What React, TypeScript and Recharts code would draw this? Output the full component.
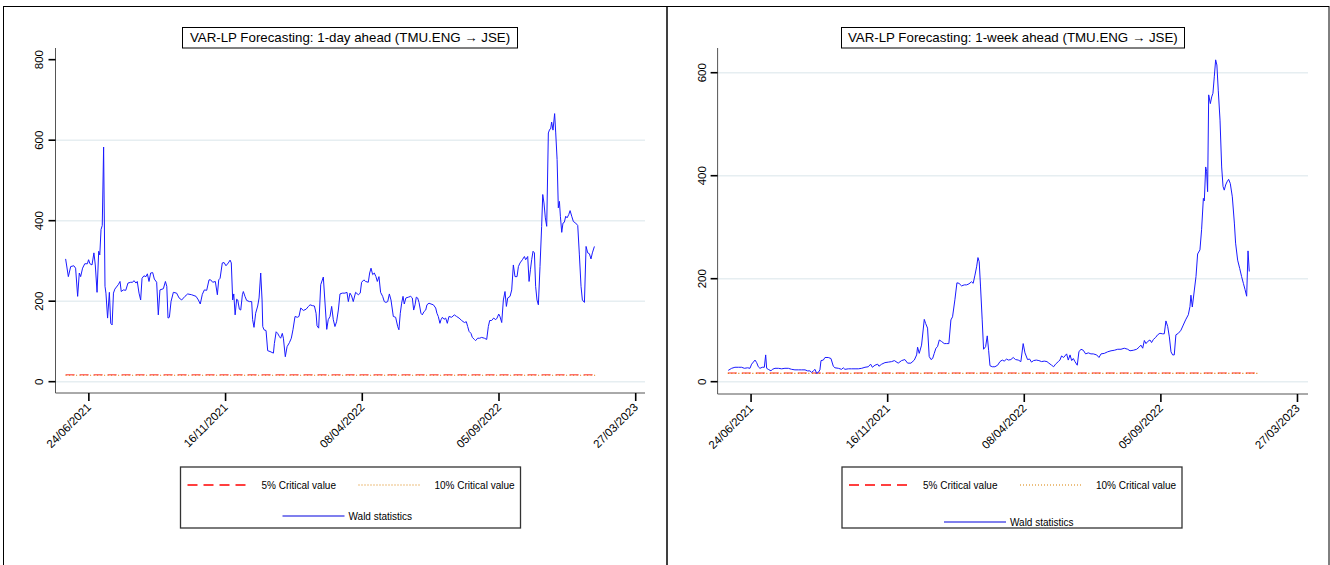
import { CartesianGrid, Line, LineChart, XAxis, YAxis } from 'recharts';

// x axis = trading-day index, labelled every 100 observations
const dateTicks = [17, 117, 217, 317, 417];
const dateLabels = ['24/06/2021', '16/11/2021', '08/04/2022', '05/09/2022', '27/03/2023'];

// 1-day ahead Wald statistics
const dayObs = [
  0, 2, 3.7, 6, 7.3, 8.8, 10, 11, 12.4, 14, 15.9, 16.8, 17.8, 19.3, 20.7, 21.7, 23, 24.2, 25, 25.9,
  26.8, 27.8, 28.8, 29.5, 30.7, 32, 33, 34, 35, 36, 38.5, 39.8, 40.7, 42.2, 44, 45.6, 47.6, 49, 50, 51.5,
  52.4, 53.7, 54.9, 55.9, 57.3, 58.8, 59.8, 61, 62.2, 63.7, 64.9, 66.6, 67.8, 69, 71.5, 73, 74, 74.9, 75.9, 77.1,
  78.8, 81.2, 83, 84.9, 87.3, 89.3, 92.2, 95.4, 97.1, 98.5, 100, 101.5, 103.2, 104.9, 106.1, 107.6, 109.5, 111, 112, 113,
  114.6, 115.9, 117.3, 119, 120.3, 121.2, 122.2, 123, 124, 125.1, 125.9, 127.1, 128.1, 129.3, 130, 131.2, 132.4, 134.4, 136.1, 136.8,
  137.8, 139, 140.5, 141.5, 142.7, 143.7, 144.2, 145.1, 146.6, 147.8, 149.5, 152, 152.7, 154, 155.1, 156.4, 157.3, 158.5, 159.3, 160.7,
  162, 163.7, 165.1, 166.3, 167.8, 169.5, 170.7, 172, 173.9, 175.9, 177.6, 178.8, 180.5, 182, 183.2, 183.9, 185.1, 186.6, 188.5, 191,
  192.1, 193.4, 194.6, 195.8, 197, 198.2, 199.5, 200.7, 202.4, 204.3, 205.8, 206.8, 208, 209.2, 210.4, 212.1, 214.1, 215.5, 216.5, 218.2,
  219.4, 221.4, 222.4, 223.4, 224.6, 225.8, 227, 228, 229.2, 230.4, 231.9, 233.1, 234.3, 235.6, 236.8, 238, 239.7, 241.4, 242.9, 243.8,
  244.8, 245.8, 246.8, 247.7, 248.9, 250.7, 252.4, 253.6, 254.6, 255.6, 256.5, 257.5, 258.5, 259.9, 260.9, 262.1, 263.4, 264.3, 265.8, 267.3,
  269, 270.7, 271.6, 272.6, 273.8, 274.6, 275.6, 276.8, 278, 279.2, 280.4, 282.4, 284.3, 286, 287.8, 289.7, 291.7, 293.1, 294.1, 295.1,
  296.5, 297.5, 299, 299.9, 301.4, 302.9, 304.3, 306.3, 308, 309.2, 310.2, 311.6, 313.1, 314.6, 315.6, 316.8, 317.7, 319, 320.2, 321.4,
  322.4, 323.4, 325.1, 326.3, 327.5, 328.7, 330.2, 331.2, 332.4, 334.1, 335.6, 336.5, 338, 339, 340, 340.9, 341.9, 342.9, 343.8, 344.8,
  345.8, 347, 348.2, 349, 349.9, 350.9, 351.9, 353.1, 354.1, 354.8, 355.5, 356.5, 357.7, 358.5, 359.5, 360.4, 361.2, 361.9, 362.9, 363.8,
  364.8, 365.8, 366.8, 368, 369, 370.2, 371.4, 373.1, 374.6, 375.8, 377, 378, 379.5, 380.7, 381.9, 383.1, 384.3, 385.3, 386.8,
];
const dayWald = [
  305, 261, 286, 288, 282, 212, 270, 261, 282, 293, 293, 303, 293, 290, 320, 290, 222, 324, 315, 378,
  388, 583, 237, 220, 158, 222, 145, 141, 220, 230, 241, 249, 224, 228, 227, 245, 247, 247, 251, 245,
  249, 220, 203, 257, 263, 261, 268, 249, 270, 271, 255, 247, 166, 228, 231, 249, 237, 158, 160, 199,
  222, 220, 208, 203, 212, 218, 216, 212, 203, 193, 217, 228, 227, 253, 253, 247, 249, 216, 253, 257,
  295, 296, 288, 295, 302, 295, 203, 218, 166, 205, 203, 180, 178, 216, 224, 212, 202, 199, 199, 154,
  135, 170, 188, 208, 270, 203, 137, 129, 127, 77, 75, 71, 95, 124, 120, 112, 108, 120, 108, 62,
  87, 97, 108, 129, 162, 160, 162, 183, 177, 180, 187, 191, 189, 188, 170, 139, 133, 241, 260, 130,
  154, 162, 187, 154, 137, 149, 178, 218, 220, 220, 222, 199, 220, 213, 199, 222, 216, 220, 247, 253,
  249, 247, 270, 282, 266, 270, 261, 249, 261, 222, 212, 199, 197, 199, 218, 203, 162, 160, 137, 129,
  170, 195, 212, 193, 208, 210, 212, 208, 178, 191, 210, 208, 197, 170, 166, 174, 178, 191, 195, 193,
  191, 183, 170, 162, 145, 154, 160, 155, 158, 145, 162, 160, 166, 162, 158, 152, 147, 149, 137, 125,
  120, 110, 105, 102, 108, 108, 110, 108, 105, 137, 152, 152, 158, 154, 158, 168, 162, 147, 203, 224,
  187, 208, 212, 228, 290, 261, 261, 286, 295, 303, 311, 303, 311, 249, 278, 303, 324, 320, 237, 203,
  191, 286, 386, 465, 444, 407, 386, 618, 627, 628, 645, 625, 666, 618, 552, 432, 448, 411, 371, 394,
  396, 411, 407, 415, 425, 411, 398, 394, 388, 315, 237, 203, 197, 336, 320, 318, 305, 320, 336,
];

// 1-week ahead Wald statistics
const weekObs = [
  0.3, 2.8, 5.2, 7.7, 10.1, 12.1, 14.5, 16.2, 17.4, 19.9, 21.1, 22.3, 23.5, 25.2, 26.7, 27.7, 28.4, 29.6, 31.6, 32.6,
  34.5, 37, 39.4, 41.8, 44.3, 46.7, 49.1, 51.6, 54, 56.5, 58.4, 60.1, 61.3, 62.6, 63.8, 65, 66.2, 67.4, 68.2, 69.9,
  71.1, 73.5, 75.5, 77.2, 78.4, 80.9, 83.3, 84.5, 85.7, 88.2, 90.6, 93.1, 95.5, 98, 100.4, 102.8, 104.5, 105.8, 107.7, 109.7,
  110.6, 112.6, 115, 117.5, 119.9, 121.9, 124.7, 127.2, 129.6, 131.6, 134, 136.5, 138.2, 138.9, 140.1, 141.8, 143.8, 144.8, 146.2, 147.4,
  148.7, 149.9, 151.1, 152.3, 153.5, 154.8, 156.5, 158.4, 160.1, 161.8, 163.3, 164.5, 166.2, 167.7, 169.2, 171.1, 173.1, 174.8, 176.5, 178.4,
  179.6, 180.9, 182.1, 183.1, 184, 185, 186.2, 187.2, 188.7, 189.9, 190.9, 191.9, 193.6, 195.5, 197.5, 199.2, 200.9, 202.3, 204.1, 205.3,
  207.2, 208.9, 210.6, 212.6, 214.5, 216.2, 217.5, 219.4, 220.9, 222.3, 223.8, 225.8, 227.7, 229.7, 231.6, 233.6, 235, 237, 238.5, 239.9,
  241.9, 243.1, 244.3, 245.8, 248, 249.2, 250.5, 251.7, 252.9, 254.1, 255.8, 257, 258.5, 260.2, 261.9, 263.9, 265.8, 267.5, 270, 271.7,
  273.2, 275.6, 278, 280.5, 282.9, 285.4, 287.8, 290.2, 292.7, 294.4, 296.8, 299.3, 301, 302.4, 303.7, 304.9, 306.1, 307.3, 309, 310.2,
  311.5, 313.2, 314.6, 316.3, 318.1, 319.5, 320.7, 322, 323.2, 324.4, 325.6, 326.8, 328, 329.8, 331.7, 333.4, 335.1, 337.1, 338.3, 339,
  340, 341.5, 342.7, 343.9, 345.6, 346.8, 348.1, 348.8, 349.8, 350.5, 351.2, 352, 353.2, 354.2, 355.1, 356.1, 357.1, 358, 359, 360.3,
  361.5, 362.5, 363.4, 364.4, 365.4, 366.6, 367.8, 369.3, 370.8, 371.7, 373.2, 374.7, 376.1, 377.4, 378.6, 379.8, 380.8, 381.7,
];
const weekWald = [
  22, 26, 28, 28, 28, 26, 27, 26, 34, 42, 37, 29, 26, 28, 28, 52, 26, 24, 21, 24,
  26, 26, 25, 26, 26, 24, 23, 23, 23, 23, 21, 21, 18, 21, 24, 16, 18, 23, 41, 42,
  47, 47, 45, 30, 27, 26, 24, 27, 24, 25, 25, 25, 25, 26, 28, 29, 34, 28, 32, 34,
  30, 34, 37, 38, 39, 41, 36, 41, 43, 36, 36, 42, 52, 67, 55, 71, 121, 113, 104, 49,
  43, 45, 55, 65, 68, 81, 78, 74, 74, 74, 120, 126, 159, 192, 191, 186, 188, 188, 190, 194,
  191, 207, 223, 241, 233, 184, 120, 63, 68, 89, 61, 31, 29, 29, 32, 39, 42, 40, 44, 42,
  43, 47, 43, 42, 39, 74, 56, 43, 44, 38, 41, 42, 41, 39, 40, 39, 36, 32, 29, 34,
  39, 42, 50, 47, 54, 42, 52, 41, 45, 39, 32, 58, 63, 61, 54, 56, 54, 54, 52, 47,
  54, 55, 58, 60, 61, 63, 63, 65, 63, 60, 61, 63, 67, 71, 65, 80, 74, 78, 81, 76,
  82, 86, 91, 94, 93, 93, 118, 107, 87, 58, 52, 52, 91, 94, 100, 110, 120, 130, 146, 168,
  145, 178, 204, 248, 256, 295, 356, 351, 417, 408, 369, 557, 540, 553, 560, 592, 625, 615, 566, 508,
  417, 379, 372, 382, 388, 393, 385, 359, 308, 269, 236, 220, 204, 191, 179, 166, 254, 214,
];

// critical values (constant over the sample)
const critObs = [0, 389];
const crit5 = [17, 17];
const crit10 = [16, 16];

const FONT = '"Liberation Sans", Arial, Helvetica, sans-serif';

const toRows = (obs: number[], vals: number[]) => obs.map((o, i) => ({ obs: o, v: vals[i] }));

const DateTick = ({ x, y, payload }: any) => {
  const label = dateLabels[dateTicks.indexOf(payload.value)];
  const ax = x + 3;
  const ay = y + 5;
  return (
    <text x={ax} y={ay} transform={`rotate(-45 ${ax} ${ay})`} textAnchor="end" fontSize={11.5} fill="#000" fontFamily={FONT}>
      {label}
    </text>
  );
};

const ValueTick = ({ x, y, payload }: any) => (
  <text x={x} y={y} transform={`rotate(-90 ${x} ${y})`} textAnchor="middle" fontSize={11.5} fill="#000" fontFamily={FONT}>
    {payload.value}
  </text>
);

type PanelProps = {
  left: number;
  width: number;
  yWidth: number;
  right: number;
  bottom: number;
  yDomain: [number, number];
  yTicks: number[];
  grid: number[];
  xDomain: [number, number];
  obs: number[];
  wald: number[];
};

const Panel = ({ left, width, yWidth, right, bottom, yDomain, yTicks, grid, xDomain, obs, wald }: PanelProps) => {
  const rows = toRows(obs, wald);
  const c5 = toRows(critObs, crit5);
  const c10 = toRows(critObs, crit10);
  return (
    <div style={{ position: 'absolute', left, top: 0 }}>
      <LineChart width={width} height={565} margin={{ top: 48, right, bottom, left: 0 }}>
        <CartesianGrid vertical={false} horizontalValues={grid} stroke="#e6eef1" strokeWidth={1.5} />
        <XAxis
          type="number"
          dataKey="obs"
          domain={xDomain}
          ticks={dateTicks}
          allowDataOverflow
          height={60}
          tick={<DateTick />}
          tickSize={8}
          tickMargin={2}
          axisLine={{ stroke: '#555', strokeWidth: 1 }}
          tickLine={{ stroke: '#000', strokeWidth: 1.6 }}
        />
        <YAxis
          type="number"
          domain={yDomain}
          ticks={yTicks}
          allowDataOverflow
          width={yWidth}
          tick={<ValueTick />}
          tickSize={7}
          tickMargin={5}
          axisLine={{ stroke: '#555', strokeWidth: 1 }}
          tickLine={{ stroke: '#000', strokeWidth: 1.6 }}
        />
        <Line data={c5} dataKey="v" stroke="#ff4040" strokeOpacity={0.75} strokeWidth={1.5} strokeDasharray="9 5" dot={false} isAnimationActive={false} />
        <Line data={c10} dataKey="v" stroke="#e07800" strokeWidth={1.2} strokeDasharray="1 2.5" dot={false} isAnimationActive={false} />
        <Line data={rows} dataKey="v" stroke="#1a1aff" strokeWidth={1} dot={false} isAnimationActive={false} />
      </LineChart>
    </div>
  );
};

const LegendBox = ({ x, y, wy }: { x: number; y: number; wy: number }) => (
  <g fontFamily={FONT} fontSize={10} fill="#000">
    <rect x={x} y={y} width={340} height={61} fill="none" stroke="#333" strokeWidth={1.3} />
    <line x1={x + 7} x2={x + 69} y1={y + 18} y2={y + 18} stroke="red" strokeWidth={1.3} strokeDasharray="10 6" />
    <text x={x + 81} y={y + 21.5}>5% Critical value</text>
    <line x1={x + 178} x2={x + 241} y1={y + 18} y2={y + 18} stroke="#d98000" strokeWidth={1.2} strokeDasharray="1 2" />
    <text x={x + 254} y={y + 21.5}>10% Critical value</text>
    <line x1={x + 102} x2={x + 164} y1={wy} y2={wy} stroke="#0000dd" strokeWidth={1.2} />
    <text x={x + 168} y={wy + 3.5}>Wald statistics</text>
  </g>
);

const App = () => {
  return (
    <div style={{ position: 'absolute', left: 0, top: 0, width: 1330, height: 565, overflow: 'hidden', background: '#fff' }}>
      <Panel
        left={3}
        width={664}
        yWidth={52.5}
        right={22}
        bottom={112}
        yDomain={[-28.1, 829]}
        yTicks={[0, 200, 400, 600, 800]}
        grid={[0, 200, 400, 600]}
        xDomain={[-7.4, 423.8]}
        obs={dayObs}
        wald={dayWald}
      />
      <Panel
        left={667}
        width={663}
        yWidth={50.6}
        right={22}
        bottom={111}
        yDomain={[-23.9, 648]}
        yTicks={[0, 200, 400, 600]}
        grid={[0, 200, 400, 600]}
        xDomain={[-7.5, 424.7]}
        obs={weekObs}
        wald={weekWald}
      />
      <svg width={1330} height={565} style={{ position: 'absolute', left: 0, top: 0, pointerEvents: 'none' }}>
        <rect x={3.5} y={6.5} width={663.5} height={600} fill="none" stroke="#000" strokeWidth={1} />
        <rect x={667} y={6.5} width={662} height={600} fill="none" stroke="#000" strokeWidth={1} />
        <g fontFamily={FONT} fontSize={13.3} fill="#000">
          <rect x={182.5} y={27.5} width={335} height={20.5} fill="#fff" stroke="#000" strokeWidth={1} />
          <text x={350} y={42.3} textAnchor="middle">VAR-LP Forecasting: 1-day ahead (TMU.ENG → JSE)</text>
          <rect x={841.5} y={27.5} width={343} height={20.5} fill="#fff" stroke="#000" strokeWidth={1} />
          <text x={1012.8} y={42.3} textAnchor="middle">VAR-LP Forecasting: 1-week ahead (TMU.ENG → JSE)</text>
        </g>
        <LegendBox x={180.5} y={467} wy={516} />
        <LegendBox x={842} y={467} wy={522} />
      </svg>
    </div>
  );
};

export default App;
